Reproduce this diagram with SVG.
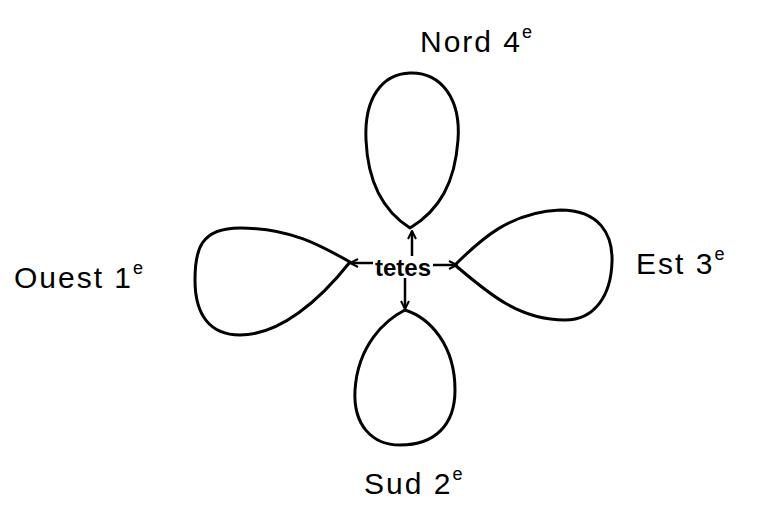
<svg xmlns="http://www.w3.org/2000/svg" width="759" height="506" viewBox="0 0 759 506">
<style>
.loop{fill:none;stroke:#000;stroke-width:3;stroke-linejoin:round}
.conn{fill:none;stroke:#000;stroke-width:2.5}
.lbl{font-family:"Liberation Sans",Arial,sans-serif;font-size:30px;letter-spacing:2px;fill:#000}
.sup{font-size:18px;letter-spacing:0}
.ctr{font-family:"Liberation Sans",Arial,sans-serif;font-size:24px;font-weight:bold;fill:#000}
</style>
<defs>
<marker id="ah" viewBox="0 0 10 10" refX="9" refY="5" markerWidth="10" markerHeight="10" markerUnits="userSpaceOnUse" orient="auto">
<polyline points="1,1 9,5 1,9" fill="none" stroke="#000" stroke-width="2"/>
</marker>
</defs>
<rect width="759" height="506" fill="#fff"/>
<g id="nord">
<path class="loop" d="M410,228 C388,214 368,188 366,140 C364,98 382,74 410,73 C442,72 461,100 458,140 C455,182 440,210 410,228 Z"/>
<text class="lbl" x="420" y="52">Nord 4<tspan class="sup" dy="-14">e</tspan></text>
</g>
<g id="ouest">
<path class="loop" d="M350,262 C320,245 290,228 240,228 C200,228 195,250 195,280 C195,315 210,335 240,335 C280,335 320,300 350,262 Z"/>
<text class="lbl" x="14" y="288">Ouest 1<tspan class="sup" dy="-14">e</tspan></text>
</g>
<g id="est">
<path class="loop" d="M455,265 C480,240 510,212 560,210 C600,210 613,235 612,262 C611,295 595,320 565,320 C520,320 490,295 455,265 Z"/>
<text class="lbl" x="636" y="274">Est 3<tspan class="sup" dy="-14">e</tspan></text>
</g>
<g id="sud">
<path class="loop" d="M405,310 C385,320 358,345 355,390 C353,425 372,445 400,445 C435,445 455,425 455,390 C455,345 430,318 405,310 Z"/>
<text class="lbl" x="364" y="494">Sud 2<tspan class="sup" dy="-14">e</tspan></text>
</g>
<g id="tetes">
<text class="ctr" x="375" y="276">tetes</text>
</g>
<g id="connectors">
<line class="conn" x1="412" y1="256" x2="412" y2="231" marker-end="url(#ah)"/>
<line class="conn" x1="373" y1="263" x2="350" y2="263" marker-end="url(#ah)"/>
<line class="conn" x1="433" y1="265" x2="457" y2="265" marker-end="url(#ah)"/>
<line class="conn" x1="405" y1="278" x2="405" y2="309" marker-end="url(#ah)"/>
</g>
</svg>
